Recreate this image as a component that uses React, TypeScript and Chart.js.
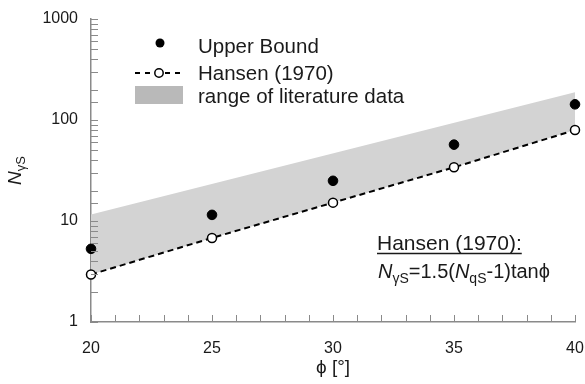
import React, { useEffect, useRef } from "react";
import { Chart, registerables } from "chart.js";

Chart.register(...registerables);

// ---- data ----
const phiValues = [20, 25, 30, 35, 40];
const upperBound = [5.3, 11.5, 25, 57, 143];
const hansen1970 = [2.95, 6.8, 15.2, 34, 79.5];
const rangePhi = [20, 40];
const rangeUpper = [11.6, 188];
const yTickLabels = [1, 10, 100, 1000];
const xTickLabels = [20, 25, 30, 35, 40];

const FONT = "'Liberation Sans', Arial, Helvetica, sans-serif";
const AXIS_COLOR = "#8a8a8a";
const TEXT_COLOR = "#1a1a1a";
const BAND_COLOR = "#d3d3d3";
const SWATCH_COLOR = "#b9b9b9";

const decorPlugin = {
  id: "decor",
  afterDraw(chart: any) {
    const { ctx, chartArea, scales } = chart;
    const xs = scales.x;
    const ys = scales.y;
    ctx.save();
    // tick marks (inward)
    ctx.strokeStyle = AXIS_COLOR;
    ctx.lineWidth = 1;
    ys.ticks.forEach((t: any) => {
      const py = Math.round(ys.getPixelForValue(t.value)) + 0.5;
      ctx.beginPath();
      ctx.moveTo(chartArea.left, py);
      ctx.lineTo(chartArea.left + 7, py);
      ctx.stroke();
    });
    xs.ticks.forEach((t: any) => {
      const px = Math.round(xs.getPixelForValue(t.value)) + 0.5;
      ctx.beginPath();
      ctx.moveTo(px, chartArea.bottom);
      ctx.lineTo(px, chartArea.bottom - 7);
      ctx.stroke();
    });

    ctx.fillStyle = TEXT_COLOR;
    ctx.textBaseline = "alphabetic";

    // x axis title
    ctx.font = `19px ${FONT}`;
    ctx.textAlign = "center";
    ctx.fillText("ϕ [°]", (chartArea.left + chartArea.right) / 2, 373);

    // y axis title (rotated)
    ctx.save();
    ctx.translate(21, (chartArea.top + chartArea.bottom) / 2);
    ctx.rotate(-Math.PI / 2);
    ctx.textAlign = "left";
    ctx.font = `italic 19px ${FONT}`;
    const wN = ctx.measureText("N").width;
    ctx.font = `13px ${FONT}`;
    const wSub = ctx.measureText("γS").width;
    const start = -(wN + wSub) / 2;
    ctx.font = `italic 19px ${FONT}`;
    ctx.fillText("N", start, 0);
    ctx.font = `13px ${FONT}`;
    ctx.fillText("γS", start + wN, 4);
    ctx.restore();

    // legend
    ctx.textAlign = "left";
    ctx.font = `20.5px ${FONT}`;
    // upper bound marker
    ctx.fillStyle = "#000";
    ctx.beginPath();
    ctx.arc(160, 43, 4.5, 0, Math.PI * 2);
    ctx.fill();
    ctx.fillStyle = TEXT_COLOR;
    ctx.fillText("Upper Bound", 198, 53);
    // hansen sample
    ctx.strokeStyle = "#000";
    ctx.lineWidth = 2;
    ctx.setLineDash([5, 5]);
    ctx.beginPath();
    ctx.moveTo(135, 73);
    ctx.lineTo(183, 73);
    ctx.stroke();
    ctx.setLineDash([]);
    ctx.fillStyle = "#fff";
    ctx.lineWidth = 1.5;
    ctx.beginPath();
    ctx.arc(159, 73, 4.2, 0, Math.PI * 2);
    ctx.fill();
    ctx.stroke();
    ctx.fillStyle = TEXT_COLOR;
    ctx.fillText("Hansen (1970)", 198, 80);
    // range swatch
    ctx.fillStyle = SWATCH_COLOR;
    ctx.fillRect(135, 86, 48, 18);
    ctx.fillStyle = TEXT_COLOR;
    ctx.fillText("range of literature data", 198, 103);

    // annotation
    ctx.font = `21px ${FONT}`;
    const l1 = "Hansen (1970):";
    ctx.fillText(l1, 377, 250);
    const w1 = ctx.measureText(l1).width;
    ctx.strokeStyle = TEXT_COLOR;
    ctx.lineWidth = 1.5;
    ctx.beginPath();
    ctx.moveTo(377, 253.5);
    ctx.lineTo(377 + w1, 253.5);
    ctx.stroke();

    const parts: [string, string, number][] = [
      ["N", `italic 20px ${FONT}`, 0],
      ["γS", `14px ${FONT}`, 5],
      ["=1.5(", `20px ${FONT}`, 0],
      ["N", `italic 20px ${FONT}`, 0],
      ["qS", `14px ${FONT}`, 5],
      ["-1)tan", `20px ${FONT}`, 0],
      ["ϕ", `20px ${FONT}`, 0],
    ];
    let x = 378;
    parts.forEach(([s, f, dy]) => {
      ctx.font = f;
      ctx.fillText(s, x, 278 + dy);
      x += ctx.measureText(s).width;
    });
    ctx.restore();
  },
};

export default function App() {
  const canvasRef = useRef<HTMLCanvasElement | null>(null);

  useEffect(() => {
    document.body.style.margin = "0";
    const canvas = canvasRef.current;
    if (!canvas) return;
    const chart = new Chart(canvas, {
      type: "scatter",
      data: {
        datasets: [
          {
            label: "Upper Bound",
            data: phiValues.map((p, i) => ({ x: p, y: upperBound[i] })),
            showLine: false,
            pointStyle: "circle",
            pointRadius: 4.8,
            pointBackgroundColor: "#000",
            pointBorderColor: "#000",
            pointBorderWidth: 1,
            clip: false,
          },
          {
            label: "Hansen (1970)",
            data: phiValues.map((p, i) => ({ x: p, y: hansen1970[i] })),
            showLine: true,
            borderColor: "#000",
            borderWidth: 2,
            borderDash: [6, 4],
            pointRadius: 4.5,
            pointBackgroundColor: "#fff",
            pointBorderColor: "#000",
            pointBorderWidth: 1.5,
            fill: false,
            clip: false,
          },
          {
            label: "range of literature data",
            data: rangePhi.map((p, i) => ({ x: p, y: rangeUpper[i] })),
            showLine: true,
            borderWidth: 0,
            borderColor: "rgba(0,0,0,0)",
            backgroundColor: BAND_COLOR,
            pointRadius: 0,
            fill: 1,
          },
        ],
      },
      options: {
        animation: false,
        responsive: false,
        devicePixelRatio: 1,
        layout: { padding: { top: 19, right: 10, left: 0, bottom: 0 } },
        plugins: {
          legend: { display: false },
          tooltip: { enabled: false },
          filler: { propagate: false },
        },
        scales: {
          x: {
            type: "linear",
            min: 20,
            max: 40,
            grid: { display: false },
            border: { display: true, color: AXIS_COLOR, width: 1.5 },
            ticks: {
              stepSize: 1,
              autoSkip: false,
              maxRotation: 0,
              padding: 9,
              color: TEXT_COLOR,
              font: { family: FONT, size: 16 },
              callback: (v: any) => (xTickLabels.includes(Number(v)) ? String(v) : ""),
            },
            afterFit: (s: any) => {
              s.height = 62;
              s.paddingLeft = 0;
              s.paddingRight = 0;
            },
          },
          y: {
            type: "logarithmic",
            min: 1,
            max: 1000,
            grid: { display: false },
            border: { display: true, color: AXIS_COLOR, width: 1.5 },
            ticks: {
              autoSkip: false,
              padding: 5,
              color: TEXT_COLOR,
              font: { family: FONT, size: 16 },
              callback: (v: any) => (yTickLabels.includes(Number(v)) ? String(v) : ""),
            },
            afterFit: (s: any) => {
              s.width = 91;
              s.paddingTop = 0;
              s.paddingBottom = 0;
            },
          },
        },
      },
      plugins: [decorPlugin],
    });
    return () => chart.destroy();
  }, []);

  return (
    <div style={{ width: 585, height: 384, background: "#fff" }}>
      <canvas ref={canvasRef} width={585} height={384} style={{ display: "block" }} />
    </div>
  );
}
